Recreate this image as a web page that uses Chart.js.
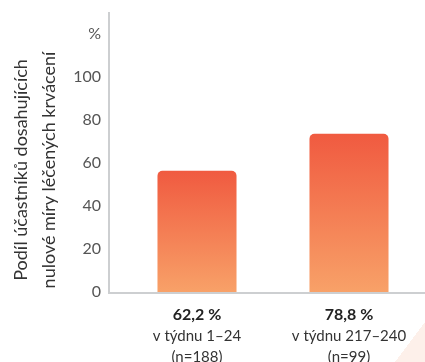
<!DOCTYPE html>
<html>
<head>
<meta charset="utf-8">
<script src="https://cdn.jsdelivr.net/npm/chart.js@4/dist/chart.umd.min.js"></script>
<style>
	html, body { margin: 0; padding: 0; background: #fff; }
	#wrap { position: relative; width: 425px; height: 362px; overflow: hidden; }
	#corner { position: absolute; left: 395px; top: 322px; width: 30px; height: 40px;
		background: linear-gradient(to bottom right, transparent 50%, #fdf0ea 50%); }
	#chart { position: absolute; left: 0; top: 0; }
</style>
</head>
<body>
<div id="wrap">
	<div id="corner"></div>
	<canvas id="chart" width="425" height="362"></canvas>
</div>
<script>
'use strict';
const periods = ['v týdnu 1–24', 'v týdnu 217–240'];
const sampleSizes = ['(n=188)', '(n=99)'];
const percentLabels = ['62,2 %', '78,8 %'];
const barValues = [56.3, 73.5];
const yTicks = [0, 20, 40, 60, 80, 100, 120];
const yTickLabels = ['0', '20', '40', '60', '80', '100', '%'];
const yTitleLines = ['Podíl účastníků dosahujících', 'nulové míry léčených krvácení'];

const FONT = 'Lato, "Noto Sans", sans-serif';
const AXIS_GAP = 12;

function barGradient(ctx) {
	const chart = ctx.chart;
	const y = chart.scales.y;
	if (!chart.chartArea || !y) return '#f4794f';
	const top = y.getPixelForValue(barValues[ctx.dataIndex]);
	const bottom = y.getPixelForValue(0);
	const g = chart.ctx.createLinearGradient(0, top, 0, bottom);
	g.addColorStop(0, '#f05a40');
	g.addColorStop(1, '#f8a168');
	return g;
}

const axisAndTitle = {
	id: 'axisAndTitle',
	afterDraw(chart) {
		const c = chart.ctx, a = chart.chartArea;
		const x0 = a.left - AXIS_GAP;
		c.save();
		c.strokeStyle = '#cdcfd1';
		c.lineWidth = 2;
		c.beginPath();
		c.moveTo(x0, 12);
		c.lineTo(x0, a.bottom + 1);
		c.lineTo(chart.width, a.bottom + 1);
		c.stroke();

		c.fillStyle = '#333';
		c.font = '18px ' + FONT;
		c.textAlign = 'center';
		c.textBaseline = 'middle';
		c.translate(0, 170);
		c.rotate(-Math.PI / 2);
		yTitleLines.forEach((line, i) => c.fillText(line, 0, 21 + i * 28));
		c.restore();
	}
};

new Chart(document.getElementById('chart'), {
	type: 'bar',
	data: {
		labels: percentLabels,
		datasets: [{
			data: barValues,
			backgroundColor: barGradient,
			borderRadius: { topLeft: 5, topRight: 5 },
			borderSkipped: 'start',
			barPercentage: 0.52,
			categoryPercentage: 1
		}]
	},
	options: {
		responsive: false,
		animation: false,
		layout: { padding: { top: 12, right: 0, left: 0, bottom: 0 } },
		plugins: { legend: { display: false }, tooltip: { enabled: false } },
		scales: {
			x: {
				weight: 0,
				grid: { display: false, drawTicks: false },
				border: { display: false },
				ticks: { color: '#222', font: { family: FONT, size: 16, weight: 'bold', lineHeight: 1.2 }, padding: 13 },
				afterFit(s) { s.height = 32; }
			},
			x2: {
				type: 'category',
				position: 'bottom',
				weight: 1,
				labels: periods.map((p, i) => [p, sampleSizes[i]]),
				offset: true,
				grid: { display: false, drawTicks: false },
				border: { display: false },
				ticks: { color: '#333', font: { family: FONT, size: 15, lineHeight: 1.4 }, padding: 2 },
				afterFit(s) { s.height = 38; }
			},
			y: {
				min: 0,
				max: 130,
				grid: { display: false, drawTicks: false },
				border: { display: false },
				ticks: {
					stepSize: 20,
					includeBounds: false,
					padding: 20,
					color: '#555',
					font: { family: FONT, size: 16 },
					callback: v => { const i = yTicks.indexOf(v); return i < 0 ? '' : yTickLabels[i]; }
				},
				afterFit(s) { s.width = 121; s.paddingTop = 0; s.paddingBottom = 0; }
			}
		}
	},
	plugins: [axisAndTitle]
});
</script>
</body>
</html>
